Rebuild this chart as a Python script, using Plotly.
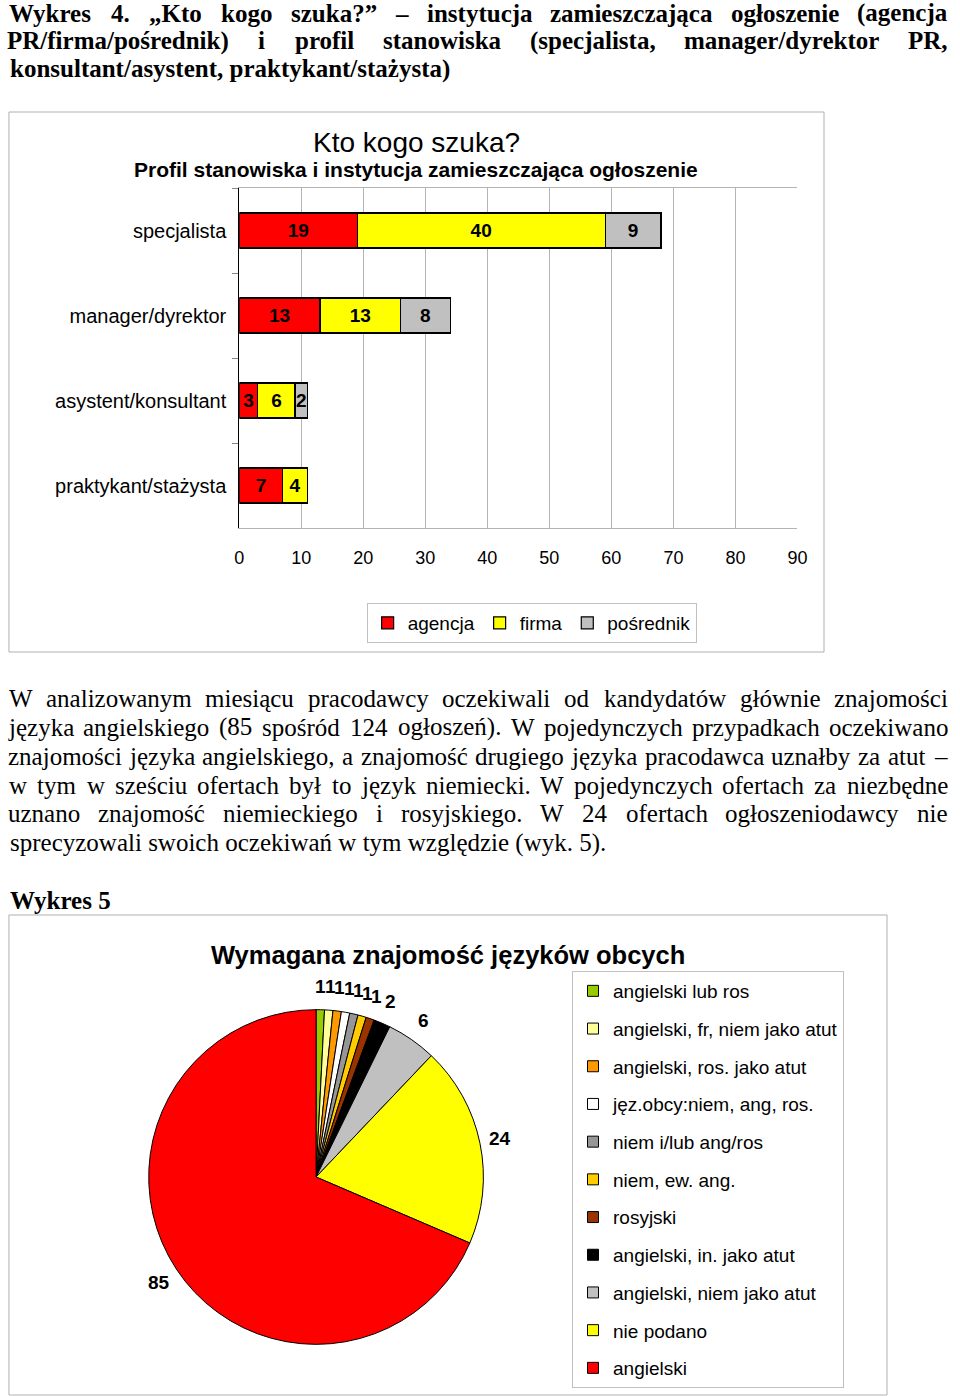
import math
import plotly.graph_objects as go

W, H = 960, 1396


def px(x):
    return x / W


def py(y):
    return 1 - y / H


# ---------------- data: chart 1 ----------------
categories = ["specjalista", "manager/dyrektor", "asystent/konsultant", "praktykant/stażysta"]
agencja = [19, 13, 3, 7]
firma = [40, 13, 6, 4]
posrednik = [9, 8, 2, None]
series_names = ["agencja", "firma", "pośrednik"]
bar_colors = ["#FF0000", "#FFFF00", "#C0C0C0"]
x_ticks = [0, 10, 20, 30, 40, 50, 60, 70, 80, 90]

# ---------------- data: chart 2 ----------------
pie_labels = [
    "angielski lub ros",
    "angielski, fr, niem jako atut",
    "angielski, ros. jako atut",
    "jęz.obcy:niem, ang, ros.",
    "niem i/lub ang/ros",
    "niem, ew. ang.",
    "rosyjski",
    "angielski, in. jako atut",
    "angielski, niem jako atut",
    "nie podano",
    "angielski",
]
pie_values = [1, 1, 1, 1, 1, 1, 1, 2, 6, 24, 85]
pie_colors = ["#99CC00", "#FFFF99", "#FF9900", "#FFFFFF", "#969696", "#FFCC00",
              "#993300", "#000000", "#C0C0C0", "#FFFF00", "#FF0000"]

# ---------------- document text ----------------
heading_lines = [
    ("Wykres 4. „Kto kogo szuka?” – instytucja zamieszczająca ogłoszenie (agencja", True),
    ("PR/firma/pośrednik) i profil stanowiska (specjalista, manager/dyrektor PR,", True),
    ("konsultant/asystent, praktykant/stażysta)", False),
]
heading_y = [13, 41, 69]
para_lines = [
    ("W analizowanym miesiącu pracodawcy oczekiwali od kandydatów głównie znajomości", True),
    ("języka angielskiego (85 spośród 124 ogłoszeń). W pojedynczych przypadkach oczekiwano", True),
    ("znajomości języka angielskiego, a znajomość drugiego języka pracodawca uznałby za atut –", True),
    ("w tym w sześciu ofertach był to język niemiecki. W pojedynczych ofertach za niezbędne", True),
    ("uznano znajomość niemieckiego i rosyjskiego. W 24 ofertach ogłoszeniodawcy nie", True),
    ("sprecyzowali swoich oczekiwań w tym względzie (wyk. 5).", False),
]
para_y = [698, 727, 756, 785, 814, 843]

# Times New Roman (Liberation Serif) advance widths, per 1000 em
TR = dict(zip("abcdefghijklmnopqrstuvwxyz",
              [444, 500, 444, 500, 444, 333, 500, 500, 278, 278, 500, 278, 778,
               500, 500, 500, 500, 333, 389, 278, 500, 500, 722, 500, 500, 444]))
TR.update(dict(zip("ABCDEFGHIJKLMNOPQRSTUVWXYZ",
                   [722, 667, 667, 722, 611, 556, 722, 722, 333, 389, 722, 611, 889,
                    722, 722, 556, 722, 667, 556, 611, 722, 722, 944, 722, 722, 611])))
TB = dict(zip("abcdefghijklmnopqrstuvwxyz",
              [500, 556, 444, 556, 444, 333, 500, 556, 278, 333, 556, 278, 833,
               556, 500, 556, 556, 444, 389, 333, 556, 500, 722, 500, 500, 444]))
TB.update(dict(zip("ABCDEFGHIJKLMNOPQRSTUVWXYZ",
                   [722, 667, 722, 722, 667, 611, 778, 778, 389, 500, 778, 667, 944,
                    722, 778, 611, 778, 722, 556, 667, 722, 722, 1000, 722, 722, 667])))
for tbl, q in ((TR, 444), (TB, 500)):
    for d in "0123456789":
        tbl[d] = 500
    tbl.update({" ": 250, ",": 250, ".": 250, "/": 278, "(": 333, ")": 333, "–": 500,
                "„": q, "”": q, ":": 278})
    tbl["?"] = 444 if tbl is TR else 500
    tbl.update({"ą": tbl["a"], "ę": tbl["e"], "ł": tbl["l"], "ń": tbl["n"], "ó": tbl["o"],
                "ś": tbl["s"], "ć": tbl["c"], "ż": tbl["z"], "ź": tbl["z"]})

FS = 25
LEFT, RIGHT = 4, 957
SERIF = "Liberation Serif"
SANS = "Liberation Sans"

# pie placement (pixels)
PIE_X0, PIE_X1, PIE_Y0, PIE_Y1 = 146, 486, 1007, 1347

fig = go.Figure()

# ---------------- bar chart ----------------
for name, vals, col in zip(series_names, [agencja, firma, posrednik], bar_colors):
    fig.add_trace(go.Bar(
        y=categories, x=vals, name=name, orientation="h",
        marker=dict(color=col, line=dict(color="black", width=1.2)),
        texttemplate="%{x}", textposition="inside", insidetextanchor="middle",
        textfont=dict(family=SANS, size=19, color="black", weight="bold"),
        constraintext="none", cliponaxis=False, legend="legend",
    ))

# ---------------- pie chart ----------------
fig.add_trace(go.Pie(
    labels=pie_labels, values=pie_values, sort=False, direction="clockwise", rotation=0,
    marker=dict(colors=pie_colors, line=dict(color="black", width=1)),
    textinfo="none",
    domain=dict(x=[px(PIE_X0), px(PIE_X1)], y=[py(PIE_Y1), py(PIE_Y0)]),
    showlegend=False,
))
# value labels just outside each slice, at the slice's mid-angle
cx, cy = (PIE_X0 + PIE_X1) / 2, (PIE_Y0 + PIE_Y1) / 2
r_lab = (PIE_X1 - PIE_X0) / 2 + 21
total = sum(pie_values)
cum = 0
for v in pie_values:
    ang = math.radians((cum + v / 2) / total * 360)
    cum += v
    fig.add_annotation(x=px(cx + r_lab * math.sin(ang)), y=py(cy - r_lab * math.cos(ang)),
                       xref="paper", yref="paper", text=str(v), showarrow=False,
                       xanchor="center", yanchor="middle", borderpad=0,
                       font=dict(family=SANS, size=19, color="black", weight="bold"))

# legend entries for the pie slices (spaced like the original)
for lab, col in zip(pie_labels, pie_colors):
    fig.add_trace(go.Scatter(
        x=[None], y=[None], mode="markers", name=lab, legend="legend2", legendgroup=lab,
        marker=dict(symbol="square", size=11, color=col, line=dict(color="black", width=1)),
        hoverinfo="skip", showlegend=True,
    ))


# ---------------- text ----------------
def add_line(text, y, bold, justify):
    tbl = TB if bold else TR
    font = dict(family=SERIF, size=FS, color="black", weight="bold" if bold else "normal")
    if not justify:
        fig.add_annotation(x=px(LEFT), y=py(y), xref="paper", yref="paper", text=text,
                           showarrow=False, xanchor="left", yanchor="middle", borderpad=0,
                           font=font)
        return
    words = text.split(" ")
    widths = [sum(tbl.get(c, 500) for c in w) / 1000 * FS for w in words]
    gap = (RIGHT - LEFT - sum(widths)) / (len(words) - 1)
    x = LEFT
    for w, wd in zip(words, widths):
        fig.add_annotation(x=px(x + wd / 2), y=py(y), xref="paper", yref="paper", text=w,
                           showarrow=False, xanchor="center", yanchor="middle", borderpad=0,
                           font=font)
        x += wd + gap


for (t, j), y in zip(heading_lines, heading_y):
    add_line(t, y, True, j)
for (t, j), y in zip(para_lines, para_y):
    add_line(t, y, False, j)
add_line("Wykres 5", 900, True, False)

# chart titles
fig.add_annotation(x=px(418), y=py(142), xref="paper", yref="paper", text="Kto kogo szuka?",
                   showarrow=False, xanchor="center", yanchor="middle",
                   font=dict(family=SANS, size=28, color="black"))
fig.add_annotation(x=px(418), y=py(170), xref="paper", yref="paper",
                   text="Profil stanowiska i instytucja zamieszczająca ogłoszenie",
                   showarrow=False, xanchor="center", yanchor="middle",
                   font=dict(family=SANS, size=21, color="black", weight="bold"))
fig.add_annotation(x=px(450), y=py(955), xref="paper", yref="paper",
                   text="Wymagana znajomość języków obcych",
                   showarrow=False, xanchor="center", yanchor="middle",
                   font=dict(family=SANS, size=25.5, color="black", weight="bold"))

# chart frames
for (x0, y0, x1, y1) in [(4, 112, 832, 652), (4, 915, 896, 1395)]:
    fig.add_shape(type="rect", xref="paper", yref="paper", x0=px(x0), x1=px(x1),
                  y0=py(y1), y1=py(y0), line=dict(color="#b0b0b0", width=1), layer="below")

fig.update_layout(
    width=W, height=H, margin=dict(l=0, r=0, t=0, b=0), autosize=False,
    paper_bgcolor="white", plot_bgcolor="white",
    barmode="stack", bargap=0.59,
    uniformtext=dict(minsize=19, mode="show"),
    font=dict(family=SANS, color="black"),
    xaxis=dict(domain=[px(238), px(805)], range=[0, 90], tickvals=x_ticks,
               showgrid=True, gridcolor="#b4b4b4", gridwidth=1, zeroline=False,
               showline=True, linecolor="#b4b4b4", mirror=True, ticks="",
               tickfont=dict(family=SANS, size=18, color="black"), ticklabelstandoff=13,
               fixedrange=True),
    yaxis=dict(domain=[py(528), py(188)], type="category", categoryorder="array",
               categoryarray=categories, autorange="reversed", showline=True,
               linecolor="black", ticks="outside", tickson="boundaries", ticklen=6,
               tickcolor="#888888", tickfont=dict(family=SANS, size=20, color="black"),
               ticklabelstandoff=8, showgrid=False, fixedrange=True),
    legend=dict(orientation="h", x=px(535), xanchor="center", y=py(603), yanchor="top",
                bordercolor="#c0c0c0", borderwidth=1, bgcolor="white",
                font=dict(family=SANS, size=19, color="black"), traceorder="normal"),
    legend2=dict(orientation="v", x=px(576), xanchor="left", y=py(971), yanchor="top",
                 bordercolor="#c0c0c0", borderwidth=1, bgcolor="white",
                 font=dict(family=SANS, size=19, color="black"),
                 traceorder="grouped", tracegroupgap=10),
)

js = """
document.body.style.margin='0px';
var gd=document.getElementById('{plot_id}');
gd.style.overflow='hidden';
if(gd.parentElement){gd.parentElement.style.overflow='hidden';gd.parentElement.style.width='960px';}
"""
fig.write_html("out.html", config={"displayModeBar": False}, post_script=js)
